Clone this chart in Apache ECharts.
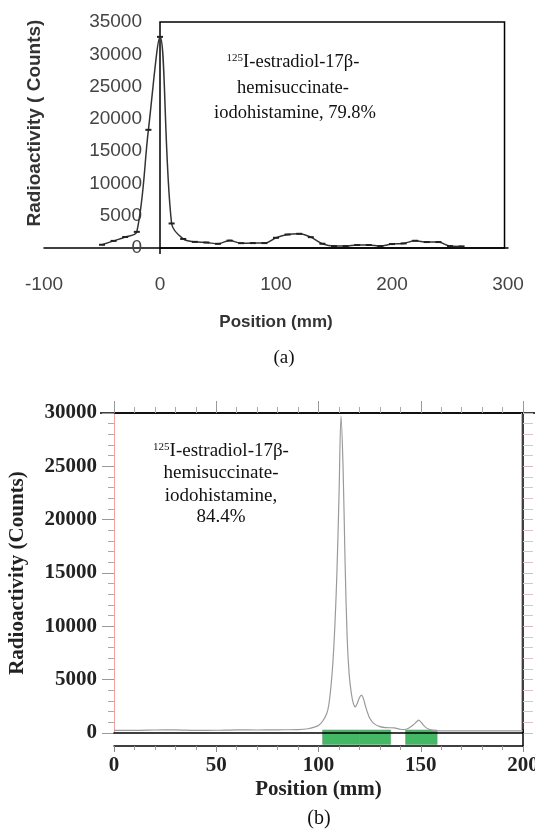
<!DOCTYPE html>
<html><head><meta charset="utf-8">
<script src="https://cdn.jsdelivr.net/npm/echarts@6/dist/echarts.min.js"></script>
<style>html,body{margin:0;padding:0;background:#fff}#c{width:535px;height:829px}</style>
</head><body><div id="c"></div>
<script>
// ---- Panel (a) data ----
const posA = [-50,-40,-30,-20,-10,0,10,20,30,40,50,60,70,80,90,100,110,120,130,140,150,160,170,180,190,200,210,220,230,240,250,260];
const countsA = [500,1100,1700,2500,18300,32700,3800,1400,950,850,650,1150,750,760,760,1580,2090,2200,1680,660,300,300,460,460,300,610,710,1120,920,920,300,250];
const xRangeA = [-100, 300];
const xStepA = 100;
const yRangeA = [0, 35000];
const yStepA = 5000;

// ---- Panel (b) data ----
const posB = [0,10,20,30,40,50,60,70,80,90,95,98,100,102,104,105,106,107,108,109,110,111,112,113,114,115,116,117,118,119,120,121,122,123,124,125,127,130,133,137,140,142,144,146,148,149,150,152,154,156,160,180,200];
const countsB = [250,250,280,300,250,260,300,280,300,320,400,550,700,1100,1800,2600,4200,6500,10000,15000,22000,29700,25000,16000,9000,5500,3800,2800,2450,2800,3300,3550,3200,2500,1900,1400,900,600,500,480,350,330,450,700,1050,1200,1050,600,350,250,200,200,200];
const xRangeB = [0, 200];
const xStepB = 50;
const yRangeB = [0, 30000];
const yStepB = 5000;
const greenBands = [[102, 120], [120, 135.3], [142.6, 158]];
const redLineB = 199;

const labelA = ['125', 'I-estradiol-17β-', 'hemisuccinate-', 'iodohistamine, 79.8%'];
const labelB = ['125', 'I-estradiol-17β-', 'hemisuccinate-', 'iodohistamine,', '84.4%'];
const yTitleA = 'Radioactivity ( Counts)';

const sans = 'Liberation Sans';
const serif = 'Liberation Serif';
const plain = v => String(v);

const chart = echarts.init(document.getElementById('c'), null, {renderer: 'canvas'});

const option = {
  animation: false,
  backgroundColor: '#fff',
  grid: [
    {left: 44, right: 27, top: 22, height: 226, outerBoundsMode: 'none', containLabel: false},
    {left: 114, right: 12, top: 413, height: 320, outerBoundsMode: 'none', containLabel: false},
    {left: 114, right: 12, top: 730, height: 16, outerBoundsMode: 'none', containLabel: false}
  ],
  xAxis: [
    { gridIndex: 0, type: 'value', min: xRangeA[0], max: xRangeA[1], interval: xStepA,
      axisLine: {lineStyle: {color: '#000', width: 1.5}},
      axisTick: {show: false}, splitLine: {show: false},
      axisLabel: {formatter: plain, fontFamily: sans, fontSize: 19, color: '#444', margin: 27},
      name: 'Position (mm)', nameLocation: 'middle', nameGap: 66,
      nameTextStyle: {fontFamily: sans, fontSize: 17, fontWeight: 'bold', color: '#333'} },
    { gridIndex: 1, type: 'value', position: 'top', min: xRangeB[0], max: xRangeB[1], interval: xStepB,
      axisLine: {onZero: false, lineStyle: {color: '#000', width: 1.5}},
      axisTick: {show: true, inside: false, length: 12, lineStyle: {color: '#999'}},
      minorTick: {show: true, splitNumber: 5, length: 6, lineStyle: {color: '#aaa'}},
      splitLine: {show: false}, axisLabel: {show: false} },
    { gridIndex: 1, type: 'value', position: 'bottom', min: xRangeB[0], max: xRangeB[1], interval: xStepB, z: 5,
      axisLine: {onZero: false, lineStyle: {color: '#000', width: 1.5}},
      axisTick: {show: false}, splitLine: {show: false}, axisLabel: {show: false} },
    { gridIndex: 2, type: 'value', position: 'bottom', min: xRangeB[0], max: xRangeB[1], interval: xStepB,
      axisLine: {onZero: false, lineStyle: {color: '#000', width: 1.5}},
      axisTick: {show: true, length: 6, lineStyle: {color: '#888'}},
      minorTick: {show: true, splitNumber: 5, length: 4, lineStyle: {color: '#999'}},
      splitLine: {show: false},
      axisLabel: {formatter: plain, fontFamily: serif, fontWeight: 'bold', fontSize: 21, color: '#222', margin: 9},
      name: 'Position (mm)', nameLocation: 'middle', nameGap: 33,
      nameTextStyle: {fontFamily: serif, fontSize: 21, fontWeight: 'bold', color: '#222'} }
  ],
  yAxis: [
    { gridIndex: 0, type: 'value', min: yRangeA[0], max: yRangeA[1], interval: yStepA,
      axisLine: {show: false, onZero: false},
      axisTick: {show: false}, splitLine: {show: false},
      axisLabel: {formatter: plain, fontFamily: sans, fontSize: 19, color: '#444', margin: -98} },
    { gridIndex: 1, type: 'value', position: 'left', min: yRangeB[0], max: yRangeB[1], interval: yStepB,
      axisLine: {show: true, onZero: false, lineStyle: {color: '#f2a3a3', width: 1}},
      axisTick: {show: true, length: 12, lineStyle: {color: '#999'}},
      minorTick: {show: true, splitNumber: 5, length: 6, lineStyle: {color: '#aaa'}},
      splitLine: {show: false},
      axisLabel: {formatter: plain, fontFamily: serif, fontWeight: 'bold', fontSize: 21, color: '#222', margin: 17},
      name: 'Radioactivity (Counts)', nameLocation: 'middle', nameGap: 86,
      nameTextStyle: {fontFamily: serif, fontSize: 21, fontWeight: 'bold', color: '#222'} },
    { gridIndex: 1, type: 'value', position: 'right', min: yRangeB[0], max: yRangeB[1], interval: yStepB,
      axisLine: {show: true, onZero: false, lineStyle: {color: '#000', width: 1.5}},
      axisTick: {show: true, length: 10, lineStyle: {color: '#d8b8b8'}},
      minorTick: {show: true, splitNumber: 5, length: 10, lineStyle: {color: '#dcc4c4'}},
      splitLine: {show: false}, axisLabel: {show: false} },
    { gridIndex: 2, type: 'value', position: 'right', min: 0, max: 1,
      axisLine: {show: true, onZero: false, lineStyle: {color: '#000', width: 1.5}},
      axisTick: {show: false}, splitLine: {show: false}, axisLabel: {show: false} }
  ],
  series: [
    { type: 'line', xAxisIndex: 0, yAxisIndex: 0,
      data: posA.map((x, i) => [x, countsA[i]]),
      smooth: 0.35, symbol: 'rect', symbolSize: [6, 2],
      lineStyle: {color: '#333', width: 1.5}, itemStyle: {color: '#222'} },
    { type: 'line', xAxisIndex: 2, yAxisIndex: 1,
      data: posB.map((x, i) => [x, countsB[i]]),
      smooth: 0.3, showSymbol: false,
      lineStyle: {color: '#9a9a9a', width: 1.2},
      markLine: {silent: true, symbol: 'none', label: {show: false},
        lineStyle: {color: '#f2a3a3', width: 1, type: 'solid'},
        data: [{xAxis: redLineB}]} },
    { type: 'custom', xAxisIndex: 3, yAxisIndex: 3, z: 1,
      data: greenBands,
      renderItem: (params, api) => {
        const a = api.coord([api.value(0), 1]);
        const b = api.coord([api.value(1), 0.1]);
        return {type: 'rect', shape: {x: a[0], y: a[1], width: b[0] - a[0], height: b[1] - a[1]},
          style: {fill: '#45b865', stroke: '#6a9e78', lineWidth: 0.6}};
      } }
  ]
};
chart.setOption(option);

// Frame box of panel (a): from x=0 to right, full height (left side acts as the y axis line)
const pTL = chart.convertToPixel({gridIndex: 0}, [0, yRangeA[1]]);
const pBR = chart.convertToPixel({gridIndex: 0}, [297, yRangeA[0]]);
const pTopB = chart.convertToPixel({gridIndex: 1}, [0, yRangeB[1]]);

function textEl(x, y, t, size, extra) {
  return Object.assign({type: 'text', x: x, y: y, silent: true,
    style: {text: t, fontFamily: serif, fontSize: size, fill: '#111', align: 'center', verticalAlign: 'middle'}}, extra || {});
}
function supLine(x, y, sup, t, size) {
  return {type: 'text', x: x, y: y, silent: true,
    style: {text: '{s|' + sup + '}{m|' + t + '}', align: 'center', verticalAlign: 'middle',
      rich: {s: {fontFamily: serif, fontSize: Math.round(size * 0.6), fill: '#111', verticalAlign: 'top'},
             m: {fontFamily: serif, fontSize: size, fill: '#111'}}}};
}

chart.setOption({
  graphic: [
    {type: 'rect', silent: true, shape: {x: pTL[0], y: pTL[1], width: pBR[0] - pTL[0], height: pBR[1] - pTL[1]},
      style: {fill: 'none', stroke: '#000', lineWidth: 1.5}},
    {type: 'line', silent: true, shape: {x1: pTL[0], y1: pBR[1], x2: pTL[0], y2: pBR[1] + 6},
      style: {stroke: '#000', lineWidth: 1.5}},
    {type: 'line', silent: true, shape: {x1: 100, y1: pTopB[1], x2: 535, y2: pTopB[1]},
      style: {stroke: '#000', lineWidth: 1.5}},
    {type: 'text', x: 35, y: 123, rotation: Math.PI / 2, silent: true,
      style: {text: yTitleA, fontFamily: sans, fontSize: 19, fontWeight: 'bold', fill: '#333', align: 'center', verticalAlign: 'middle'}},
    supLine(293, 62, labelA[0], labelA[1], 18.5),
    textEl(293, 88, labelA[2], 18.5),
    textEl(295, 113, labelA[3], 18.5),
    textEl(284, 358, '(a)', 19),
    supLine(221, 451, labelB[0], labelB[1], 19),
    textEl(221, 473, labelB[2], 19),
    textEl(221, 496, labelB[3], 19),
    textEl(221, 517, labelB[4], 19),
    textEl(319, 819, '(b)', 20)
  ]
});
</script></body></html>
